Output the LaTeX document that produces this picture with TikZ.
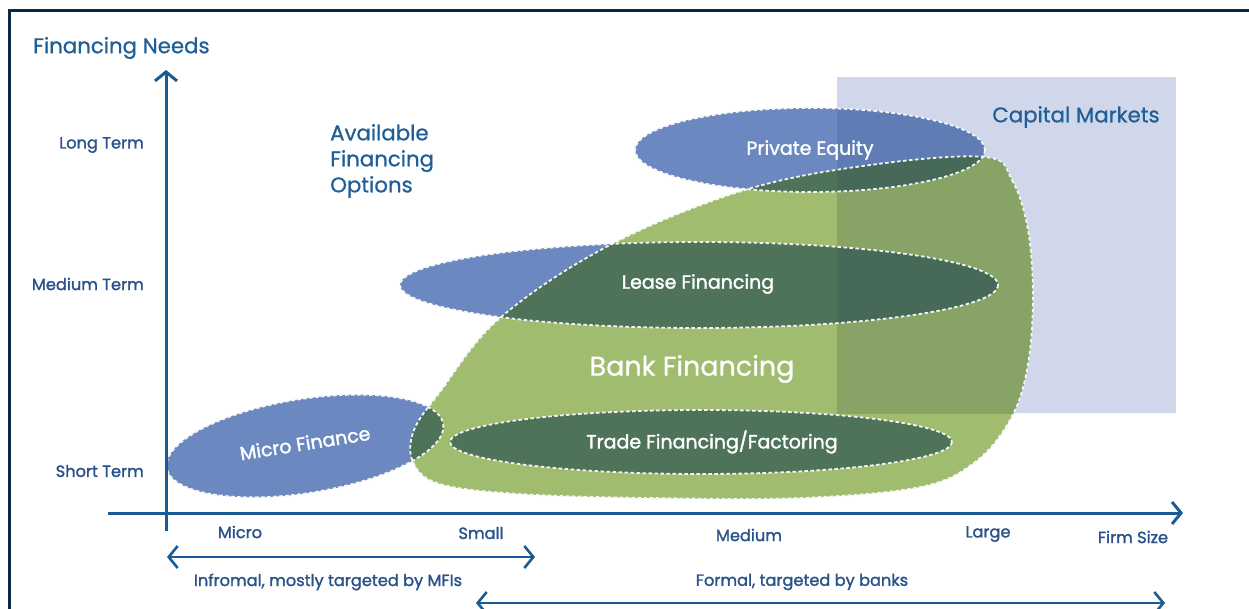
\documentclass[tikz,border=0pt]{standalone}
\usepackage{fontspec}
\setmainfont{Poppins}
\newfontfamily\medf{Poppins}[FakeBold=1.6]
\newfontfamily\semf{Poppins}[FakeBold=0.8]
\usetikzlibrary{arrows.meta}
\definecolor{framec}{HTML}{0C2848}
\definecolor{axisc}{HTML}{1B5B93}
\definecolor{titlec}{HTML}{1F5E96}
\definecolor{labc}{HTML}{29538A}
\definecolor{bluef}{HTML}{6B88C0}
\definecolor{bluef2}{HTML}{5F7DB4}
\definecolor{greenf}{HTML}{A0BC6E}
\definecolor{greenf2}{HTML}{87A366}
\definecolor{dkf}{HTML}{4E7359}
\definecolor{dkf2}{HTML}{466A57}
\definecolor{lav}{HTML}{D1D7EA}
\begin{document}
\begin{tikzpicture}[x=1pt,y=-1pt,
  blobp/.style={insert path={plot[smooth cycle, tension=0.6] coordinates {
    (985,157) (1012,180) (1028,230) (1033,300) (1027,370) (1010,420) (975,462)
    (920,487) (800,498) (650,498) (520,494) (440,484) (413,462) (414,430)
    (440,392) (500,318) (610,245) (745,190) (870,165)}}},
  pep/.style={insert path={(810,150) ellipse [x radius=175, y radius=42]}},
  leasep/.style={insert path={(699,285) ellipse [x radius=299, y radius=43]}},
  tradep/.style={insert path={(701,442) ellipse [x radius=251, y radius=32]}},
  microp/.style={insert path={(305,446) ellipse [x radius=140, y radius=47, rotate=9]}},
  capp/.style={insert path={(837,77) rectangle (1176,413)}},
  bdr/.style={draw=white!92!gray, line width=1.8pt, dash pattern=on 3.5pt off 2.5pt},
  ax/.style={draw=axisc, line width=3pt},
  barb/.tip={Straight Barb[length=9pt,width=22pt]},
  ttl/.style={text=titlec, font=\semf\fontsize{21.3}{26}\selectfont, inner sep=0pt},
  lab/.style={text=labc, font=\medf\fontsize{16.2}{18}\selectfont, inner sep=0pt},
  inl/.style={text=white, font=\medf\fontsize{19}{22}\selectfont, inner sep=0pt},
]
\useasboundingbox (0,0) rectangle (1249,609);
% frame
\draw[framec, line width=3pt] (9,612) -- (9,11) -- (1252,11);
% capital markets background
\fill[lav, capp];
% blob and ellipses
\fill[greenf, blobp];
\fill[bluef, leasep];
\fill[bluef, pep];
\fill[bluef, microp];
\begin{scope}
  \clip[blobp];
  \fill[dkf, leasep];
  \fill[dkf, pep];
  \fill[dkf, microp];
\end{scope}
\fill[dkf, tradep];
% darker variants inside capital markets
\begin{scope}
  \clip[capp];
  \fill[greenf2, blobp];
  \fill[bluef2, pep];
  \begin{scope}
    \clip[blobp];
    \fill[dkf2, leasep];
    \fill[dkf2, pep];
    \fill[dkf2, tradep];
  \end{scope}
\end{scope}
% dashed borders
\path[bdr, blobp];
\path[bdr, leasep];
\path[bdr, pep];
\path[bdr, microp];
\path[bdr, tradep];
% axes
\coordinate (yb) at (166,531);
\coordinate (yt) at (166,70);
\coordinate (xl) at (108,513);
\coordinate (xr) at (1183,513);
\draw[ax, -barb] (yb) -- (yt);
\draw[ax, -barb] (xl) -- (xr);
\coordinate (a1l) at (167,557);
\coordinate (a1r) at (535,557);
\coordinate (a2l) at (476,603);
\coordinate (a2r) at (1165,603);
\draw[ax, line width=2.6pt, barb-barb] (a1l) -- (a1r);
\draw[ax, line width=2.6pt, barb-barb] (a2l) -- (a2r);
% titles
\node[ttl, anchor=west] (fn) at (33,48) {Financing Needs};
\node[ttl, anchor=west, align=left] (afo) at (330,161) {Available\\Financing\\Options};
\node[ttl] (cm) at (1076,117) {Capital Markets};
% y labels
\node[lab, anchor=east] (lt) at (144,145) {Long Term};
\node[lab, anchor=east] (mt) at (144,284) {Medium Term};
\node[lab, anchor=east] (st) at (144,471) {Short Term};
% x labels
\node[lab] (xmi) at (240,532) {Micro};
\node[lab] (xsm) at (481,533) {Small};
\node[lab] (xme) at (749,535) {Medium};
\node[lab] (xla) at (988,534) {Large};
\node[lab] (xfs) at (1133,537) {Firm Size};
\node[lab] (inf) at (328,582) {Infromal, mostly targeted by MFIs};
\node[lab] (frm) at (802,582) {Formal, targeted by banks};
% inner labels
\node[inl] (pe) at (810,150) {Private Equity};
\node[inl] (lf) at (698,284) {Lease Financing};
\node[inl, font=\semf\fontsize{27}{30}\selectfont] (bf) at (692,369) {Bank Financing};
\node[inl] (tf) at (712,442) {Trade Financing/Factoring};
\node[inl, rotate=9] (mf) at (305,443) {Micro Finance};
\end{tikzpicture}
\end{document}
